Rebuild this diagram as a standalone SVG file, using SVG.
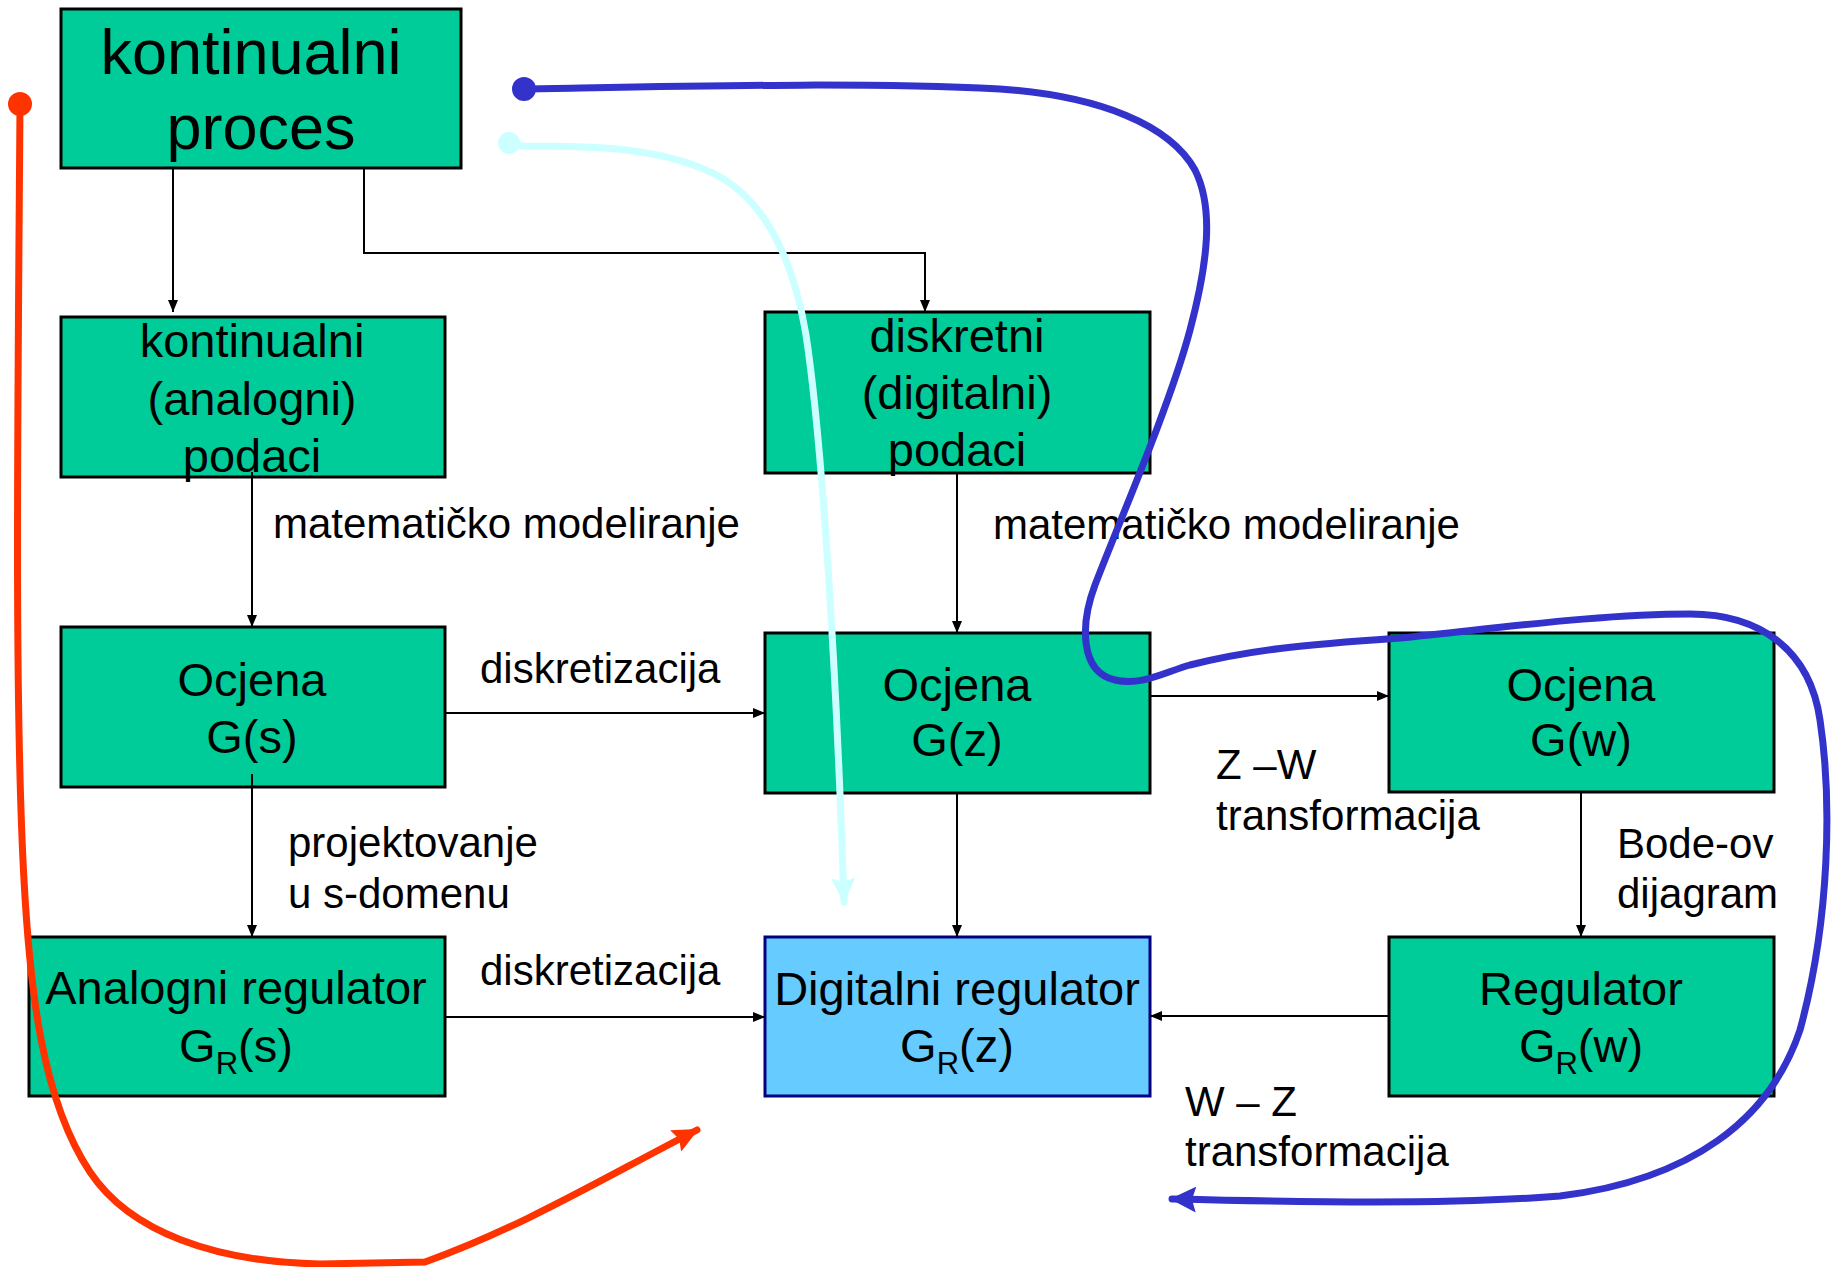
<svg xmlns="http://www.w3.org/2000/svg" width="1834" height="1267" viewBox="0 0 1834 1267">
  <style>
    .box { fill: #00CC99; stroke: #000000; stroke-width: 3; }
    .boxd { fill: #66CCFF; stroke: #000080; stroke-width: 3; }
    text { font-family: "Liberation Sans", Arial, sans-serif; fill: #000000; }
    .t { font-size: 47px; text-anchor: middle; }
    .big { font-size: 63px; }
    .lbl { font-size: 42px; }
    .sub { font-size: 31px; }
    .conn { stroke: #000000; stroke-width: 2; fill: none; marker-end: url(#arr); }
    .hand { fill: none; stroke-width: 7; stroke-linecap: round; stroke-linejoin: round; }
  </style>
  <defs>
    <marker id="arr" viewBox="0 0 12 10" refX="12" refY="5" markerWidth="12" markerHeight="10" markerUnits="userSpaceOnUse" orient="auto">
      <path d="M0,0 L12,5 L0,10 Z" fill="#000000"/>
    </marker>
    <marker id="arrRed" viewBox="0 0 26 24" refX="24" refY="12" markerWidth="26" markerHeight="24" markerUnits="userSpaceOnUse" orient="auto">
      <path d="M0,0 L26,12 L0,24 L4,12 Z" fill="#FF3300"/>
    </marker>
    <marker id="arrCyan" viewBox="0 0 26 24" refX="24" refY="12" markerWidth="26" markerHeight="24" markerUnits="userSpaceOnUse" orient="auto">
      <path d="M0,0 L26,12 L0,24 L4,12 Z" fill="#CCFFFF"/>
    </marker>
    <marker id="arrBlue" viewBox="0 0 26 26" refX="24" refY="13" markerWidth="26" markerHeight="26" markerUnits="userSpaceOnUse" orient="auto">
      <path d="M0,0 L26,13 L0,26 L4,13 Z" fill="#3333CC"/>
    </marker>
  </defs>

  <!-- blocks -->
  <g id="proces">
    <rect class="box" x="61" y="9" width="400" height="159"/>
    <text class="t big" x="251" y="74">kontinualni</text>
    <text class="t big" x="261" y="149">proces</text>
  </g>
  <g id="analogni-podaci">
    <rect class="box" x="61" y="317" width="384" height="160"/>
    <text class="t" x="252" y="357">kontinualni</text>
    <text class="t" x="252" y="415">(analogni)</text>
    <text class="t" x="252" y="472">podaci</text>
  </g>
  <g id="digitalni-podaci">
    <rect class="box" x="765" y="312" width="385" height="161"/>
    <text class="t" x="957" y="352">diskretni</text>
    <text class="t" x="957" y="409">(digitalni)</text>
    <text class="t" x="957" y="466">podaci</text>
  </g>
  <g id="ocjena-gs">
    <rect class="box" x="61" y="627" width="384" height="160"/>
    <text class="t" x="252" y="696">Ocjena</text>
    <text class="t" x="252" y="753">G(s)</text>
  </g>
  <g id="ocjena-gz">
    <rect class="box" x="765" y="633" width="385" height="160"/>
    <text class="t" x="957" y="701">Ocjena</text>
    <text class="t" x="957" y="756">G(z)</text>
  </g>
  <g id="ocjena-gw">
    <rect class="box" x="1389" y="633" width="385" height="159"/>
    <text class="t" x="1581" y="701">Ocjena</text>
    <text class="t" x="1581" y="756">G(w)</text>
  </g>
  <g id="analogni-regulator">
    <rect class="box" x="29" y="937" width="416" height="159"/>
    <text class="t" x="236" y="1004">Analogni regulator</text>
    <text class="t" x="236" y="1062">G<tspan class="sub" dy="12">R</tspan><tspan dy="-12">(s)</tspan></text>
  </g>
  <g id="digitalni-regulator">
    <rect class="boxd" x="765" y="937" width="385" height="159"/>
    <text class="t" x="957" y="1005">Digitalni regulator</text>
    <text class="t" x="957" y="1062">G<tspan class="sub" dy="12">R</tspan><tspan dy="-12">(z)</tspan></text>
  </g>
  <g id="regulator-gw">
    <rect class="box" x="1389" y="937" width="385" height="159"/>
    <text class="t" x="1581" y="1005">Regulator</text>
    <text class="t" x="1581" y="1062">G<tspan class="sub" dy="12">R</tspan><tspan dy="-12">(w)</tspan></text>
  </g>

  <!-- connectors -->
  <g id="connectors">
    <path class="conn" d="M173,168 L173,312"/>
    <path class="conn" d="M364,168 L364,253 L925,253 L925,312"/>
    <path class="conn" d="M252,472 L252,627"/>
    <path class="conn" d="M957,473 L957,633"/>
    <path class="conn" d="M445,713 L765,713"/>
    <path class="conn" d="M252,774 L252,937"/>
    <path class="conn" d="M957,793 L957,937"/>
    <path class="conn" d="M1150,696 L1389,696"/>
    <path class="conn" d="M1581,792 L1581,937"/>
    <path class="conn" d="M445,1017 L765,1017"/>
    <path class="conn" d="M1389,1016 L1150,1016"/>
  </g>

  <!-- connector labels -->
  <g id="labels">
    <text class="lbl" x="273" y="538">matematičko modeliranje</text>
    <text class="lbl" x="993" y="539">matematičko modeliranje</text>
    <text class="lbl" x="480" y="683">diskretizacija</text>
    <text class="lbl" x="480" y="985">diskretizacija</text>
    <text class="lbl" x="288" y="857">projektovanje</text>
    <text class="lbl" x="288" y="908">u s-domenu</text>
    <text class="lbl" x="1216" y="779">Z –W</text>
    <text class="lbl" x="1216" y="830">transformacija</text>
    <text class="lbl" x="1617" y="858">Bode-ov</text>
    <text class="lbl" x="1617" y="908">dijagram</text>
    <text class="lbl" x="1185" y="1116">W – Z</text>
    <text class="lbl" x="1185" y="1166">transformacija</text>
  </g>

  <!-- hand-drawn design routes -->
  <g id="routes">
    <path class="hand" stroke="#FF3300" marker-end="url(#arrRed)"
          d="M20,104 C18,400 14,700 24,880 C30,990 42,1100 90,1172 C130,1232 215,1262 320,1264 L425,1262 C520,1228 600,1180 697,1130"/>
    <circle cx="20" cy="104" r="12" fill="#FF3300"/>

    <path class="hand" stroke="#CCFFFF" marker-end="url(#arrCyan)"
          d="M509,143 L523,146 C590,146 665,146 722,178 C772,208 795,270 806,335 C822,440 836,660 844,902"/>
    <circle cx="509" cy="143" r="11" fill="#CCFFFF"/>

    <path class="hand" stroke="#3333CC" marker-end="url(#arrBlue)"
          d="M524,89 C700,86 860,82 1000,89 C1100,96 1170,125 1195,170 C1214,208 1208,262 1190,330 C1170,405 1120,520 1095,585 C1080,625 1080,672 1115,680 C1142,686 1165,672 1190,665 C1250,650 1300,645 1400,638 C1500,628 1600,614 1690,614 C1760,614 1810,650 1820,720 C1832,800 1830,920 1800,1030 C1770,1120 1690,1180 1560,1196 C1450,1205 1300,1202 1172,1199"/>
    <circle cx="524" cy="89" r="12" fill="#3333CC"/>
  </g>
</svg>
